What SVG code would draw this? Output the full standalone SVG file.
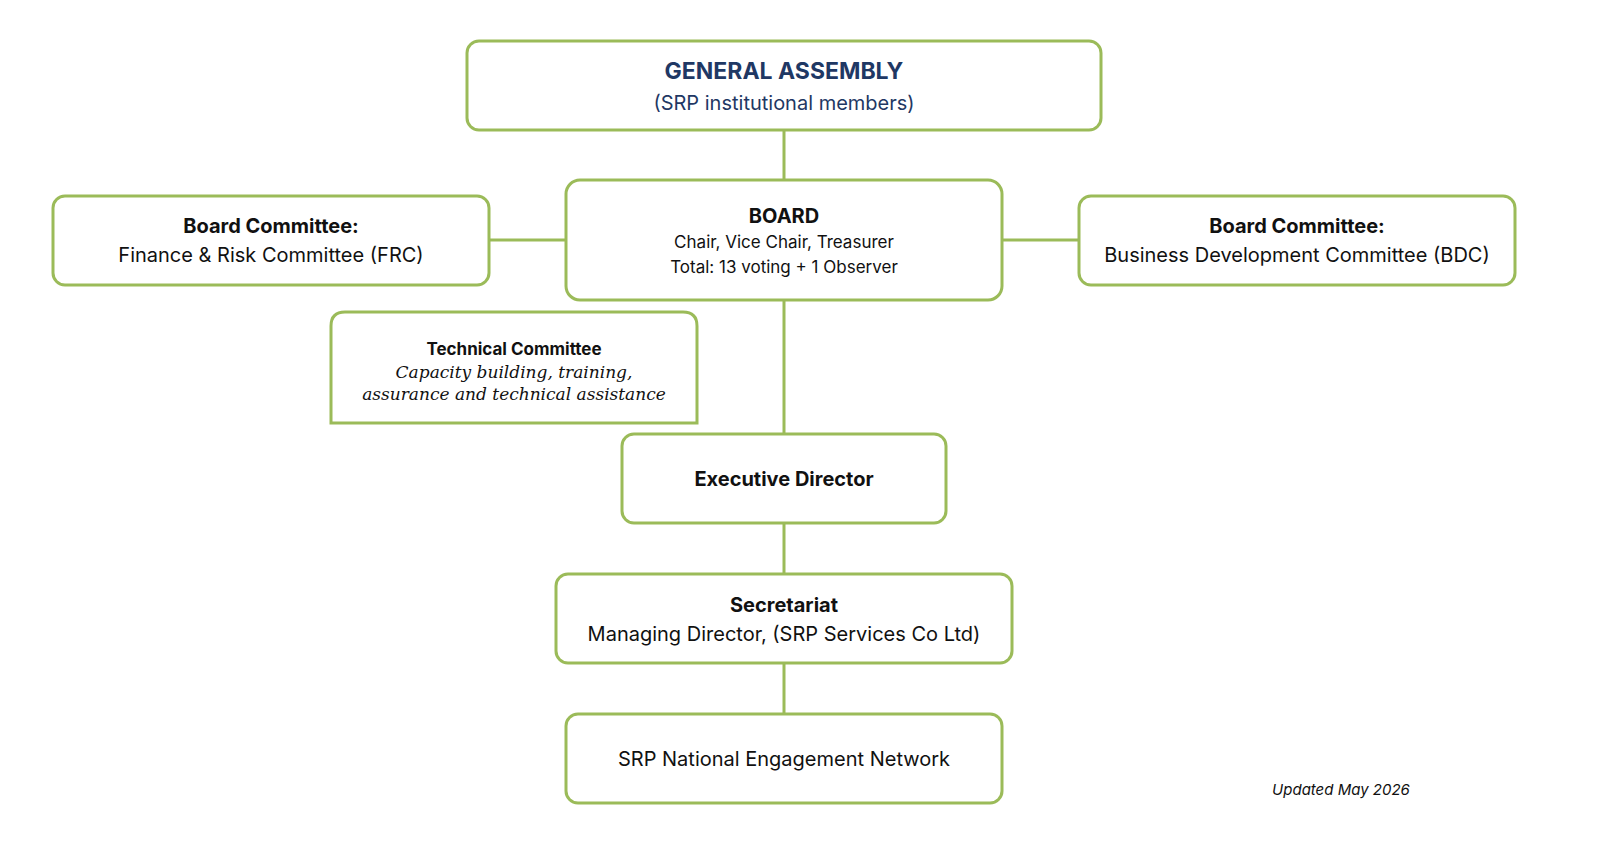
<svg xmlns="http://www.w3.org/2000/svg" width="1600" height="851" viewBox="0 0 1600 851">
<style>
.box{fill:#fff;stroke:#9BBB59;stroke-width:3}
.ln{stroke:#9BBB59;stroke-width:3;fill:none}
text{font-family:Inter,"Noto Sans",sans-serif;text-anchor:middle;fill:#111}
.b{font-weight:bold}
.s{font-family:"DejaVu Serif","Liberation Serif",serif;font-style:italic}
</style>
<rect width="1600" height="851" fill="#fff"/>
<g id="connectors">
<path class="ln" d="M784 130V180M784 300V434M784 523V574M784 663V714M489 240H566M1002 240H1079"/>
</g>
<g id="ga"><rect class="box" x="467" y="41" width="634" height="89" rx="12"/>
<text x="784" y="79" class="b" font-size="23" style="fill:#1F3864">GENERAL ASSEMBLY</text>
<text x="784" y="110" font-size="20" style="fill:#1F3864">(SRP institutional members)</text></g>
<g id="board"><rect class="box" x="566" y="180" width="436" height="120" rx="14"/>
<text x="784" y="223" class="b" font-size="20">BOARD</text>
<text x="784" y="248" font-size="17">Chair, Vice Chair, Treasurer</text>
<text x="784" y="273" font-size="17">Total: 13 voting + 1 Observer</text></g>
<g id="frc"><rect class="box" x="53" y="196" width="436" height="89" rx="12"/>
<text x="271" y="233" class="b" font-size="20">Board Committee:</text>
<text x="271" y="262" font-size="20">Finance &amp; Risk Committee (FRC)</text></g>
<g id="bdc"><rect class="box" x="1079" y="196" width="436" height="89" rx="12"/>
<text x="1297" y="233" class="b" font-size="20">Board Committee:</text>
<text x="1297" y="262" font-size="20">Business Development Committee (BDC)</text></g>
<g id="tc"><path class="box" d="M331 423V326Q331 312 345 312H683Q697 312 697 326V423Z"/>
<text x="514" y="355" class="b" font-size="17">Technical Committee</text>
<text x="514" y="378" class="s" font-size="17">Capacity building, training,</text>
<text x="514" y="400" class="s" font-size="17">assurance and technical assistance</text></g>
<g id="ed"><rect class="box" x="622" y="434" width="324" height="89" rx="12"/>
<text x="784" y="486" class="b" font-size="20">Executive Director</text></g>
<g id="sec"><rect class="box" x="556" y="574" width="456" height="89" rx="12"/>
<text x="784" y="612" class="b" font-size="20">Secretariat</text>
<text x="784" y="641" font-size="20">Managing Director, (SRP Services Co Ltd)</text></g>
<g id="net"><rect class="box" x="566" y="714" width="436" height="89" rx="12"/>
<text x="784" y="766" font-size="20">SRP National Engagement Network</text></g>
<text x="1341" y="795" font-size="15" font-style="italic">Updated May 2026</text>
</svg>
